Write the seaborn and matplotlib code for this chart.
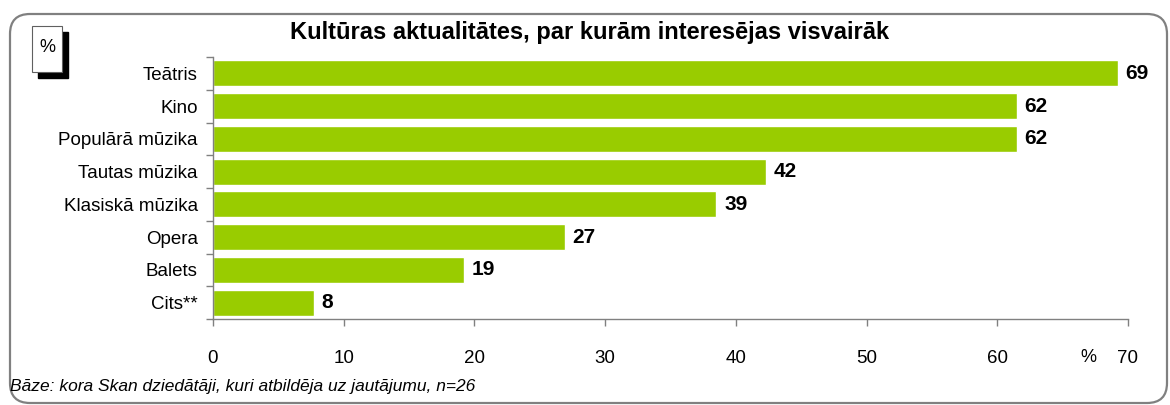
import numpy as np
import pandas as pd
import matplotlib
matplotlib.use("Agg")
import matplotlib.pyplot as plt
import seaborn as sns
from matplotlib.patches import FancyBboxPatch, Rectangle

# data (share of respondents, n=26)
categories = ["Teātris", "Kino", "Populārā mūzika", "Tautas mūzika",
              "Klasiskā mūzika", "Opera", "Balets", "Cits**"]
values = [69.2, 61.5, 61.5, 42.3, 38.5, 26.9, 19.2, 7.7]
labels = ["69", "62", "62", "42", "39", "27", "19", "8"]
x_ticks = [0, 10, 20, 30, 40, 50, 60, 70]

sns.set_style("white")
plt.rcParams['font.family'] = ['Liberation Sans', 'DejaVu Sans']
plt.rcParams['text.color'] = 'black'
plt.rcParams['xtick.color'] = 'black'
plt.rcParams['ytick.color'] = 'black'

df = pd.DataFrame({"cat": categories, "val": values})

W, H = 1170, 405
fig = plt.figure(figsize=(W / 100, H / 100), dpi=100)
ax = fig.add_axes([213 / W, 86 / H, 915 / W, 262 / H])

sns.barplot(data=df, x="val", y="cat", orient="h", color="#99CC00",
            saturation=1, width=0.8, ax=ax)

ax.set_xlim(0, 70)
ax.set_ylim(len(categories) - 0.5, -0.5)
ax.set_xticks(x_ticks)
ax.set_xticklabels([str(t) for t in x_ticks], fontsize=13.5)
ax.tick_params(axis="x", bottom=True, direction="out", length=5, width=1,
               color="#808080", labelcolor="black", pad=17)
ax.set_yticks(np.arange(len(categories)))
ax.set_yticklabels(categories, fontsize=13.5)
ax.tick_params(axis="y", which="major", left=True, length=0, pad=11, labelcolor="black")
ax.set_yticks(np.arange(len(categories) + 1) - 0.5, minor=True)
ax.tick_params(axis="y", which="minor", left=True, direction="out", length=5, width=1, color="#808080")
ax.set_xlabel("")
ax.set_ylabel("")
for s in ["top", "right"]:
    ax.spines[s].set_visible(False)
for s in ["left", "bottom"]:
    ax.spines[s].set_color("#808080")
    ax.spines[s].set_linewidth(1)

for i, (v, lab) in enumerate(zip(values, labels)):
    ax.text(v + 0.6, i, lab, va="center", ha="left", fontsize=15, fontweight="bold", color="black")

# outer rounded frame (pixel coordinates)
frame = FancyBboxPatch((10, 2), 1157, 389,
                       boxstyle="round,pad=0,rounding_size=20",
                       transform=None, fill=False,
                       edgecolor="#808080", linewidth=1.6)
fig.patches.append(frame)

# little % box with shadow
fig.patches.append(Rectangle((38 / W, 1 - 78 / H), 30 / W, 46 / H,
                             transform=fig.transFigure, facecolor="black", edgecolor="black"))
fig.patches.append(Rectangle((32 / W, 1 - 72 / H), 30 / W, 46 / H,
                             transform=fig.transFigure, facecolor="white", edgecolor="#606060", linewidth=0.8))
fig.text(47 / W, 1 - 47 / H, "%", ha="center", va="center", fontsize=13)

fig.text(590 / W, 1 - 33 / H, "Kultūras aktualitātes, par kurām interesējas visvairāk",
         ha="center", va="center", fontsize=17, fontweight="bold")
fig.text(1088 / W, 1 - 357 / H, "%", ha="center", va="center", fontsize=13)
fig.text(10 / W, 1 - 387 / H, "Bāze: kora Skan dziedātāji, kuri atbildēja uz jautājumu, n=26",
         ha="left", va="center", fontsize=12.5, style="italic")

fig.savefig("out.png", dpi=100)
